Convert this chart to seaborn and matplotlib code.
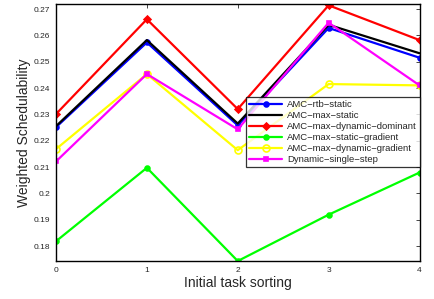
import matplotlib
matplotlib.use('Agg')
import matplotlib.pyplot as plt
import seaborn as sns
import pandas as pd

# data
sorting = [0, 1, 2, 3, 4]
amc_rtb_static = [0.2251, 0.2573, 0.2258, 0.2628, 0.2515]
amc_max_static = [0.2255, 0.2582, 0.2265, 0.2640, 0.2532]
amc_max_dyn_dominant = [0.2301, 0.2661, 0.2320, 0.2714, 0.2582]
amc_max_static_gradient = [0.1818, 0.2097, 0.1743, 0.1919, 0.2079]
amc_max_dyn_gradient = [0.2168, 0.2453, 0.2164, 0.2415, 0.2410]
dynamic_single_step = [0.2121, 0.2453, 0.2243, 0.2648, 0.2410]

series = [
    ('AMC−rtb−static', amc_rtb_static, '#0000ff', 'o', 3.5, '#0000ff'),
    ('AMC−max−static', amc_max_static, '#000000', '', 0, '#000000'),
    ('AMC−max−dynamic−dominant', amc_max_dyn_dominant, '#ff0000', 'D', 3.5, '#ff0000'),
    ('AMC−max−static−gradient', amc_max_static_gradient, '#00ff00', 'o', 3.5, '#00ff00'),
    ('AMC−max−dynamic−gradient', amc_max_dyn_gradient, '#ffff00', 'o', 5, 'none'),
    ('Dynamic−single−step', dynamic_single_step, '#ff00ff', 's', 2.5, '#ff00ff'),
]

sns.set_style('white')
plt.rcParams['font.family'] = ['Liberation Sans', 'DejaVu Sans']

fig = plt.figure(figsize=(4.35, 2.99), dpi=100)
ax = fig.add_axes([0.1287, 0.127, 0.8357, 0.8596])

for name, vals, color, marker, ms, mfc in series:
    df = pd.DataFrame({'x': sorting, 'y': vals})
    sns.lineplot(data=df, x='x', y='y', ax=ax, color=color, linewidth=1.6,
                 marker=marker if marker else None, markersize=ms,
                 markerfacecolor=mfc, markeredgecolor=color,
                 markeredgewidth=1.2, label=name)

all_vals = (amc_rtb_static + amc_max_static + amc_max_dyn_dominant +
            amc_max_static_gradient + amc_max_dyn_gradient + dynamic_single_step)
ax.set_xlim(0, 4)
ax.set_ylim(min(all_vals), max(all_vals) + 0.0005)
ax.set_xticks(sorting)
ax.set_xticklabels([str(s) for s in sorting])
yt = [0.18, 0.19, 0.2, 0.21, 0.22, 0.23, 0.24, 0.25, 0.26, 0.27]
ax.set_yticks(yt)
ax.set_yticklabels([f'{v:g}' for v in yt])
ax.tick_params(direction='in', length=3, width=0.6, labelsize=6,
               top=True, right=True, pad=4)
for sp in ax.spines.values():
    sp.set_visible(True)
    sp.set_color('black')
    sp.set_linewidth(1.0)

ax.set_xlabel('Initial task sorting', fontsize=10, labelpad=2)
ax.set_ylabel('Weighted Schedulability', fontsize=10, labelpad=2)

leg = ax.legend(loc='upper left', bbox_to_anchor=(0.524, 0.638),
                fontsize=6.8, frameon=True, fancybox=False, borderpad=0.3,
                labelspacing=0.22, handlelength=3.5, handletextpad=0.5,
                borderaxespad=0)
leg.get_frame().set_edgecolor('black')
leg.get_frame().set_linewidth(0.9)

plt.savefig('out.png', dpi=100)
